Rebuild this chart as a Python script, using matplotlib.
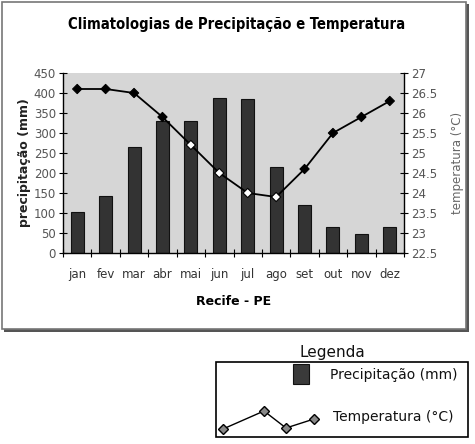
import matplotlib
matplotlib.use("Agg")
import matplotlib.pyplot as plt
from matplotlib.patches import Rectangle
from matplotlib import font_manager as fm
import numpy as np

months = ["jan", "fev", "mar", "abr", "mai", "jun", "jul", "ago", "set", "out", "nov", "dez"]
precip = [103, 143, 266, 330, 330, 388, 384, 214, 121, 66, 47, 66]
temp = [26.6, 26.6, 26.5, 25.9, 25.2, 24.5, 24.0, 23.9, 24.6, 25.5, 25.9, 26.3]
precip_ticks = list(range(0, 451, 50))
temp_ticks = [22.5, 23, 23.5, 24, 24.5, 25, 25.5, 26, 26.5, 27]

title = "Climatologias de Precipitação e Temperatura"
xlabel = "Recife - PE"
ylabel_left = "precipitação (mm)"
ylabel_right = "temperatura (°C)"
legend_title = "Legenda"
legend_labels = ["Precipitação (mm)", "Temperatura (°C)"]
# decorative zig-zag glyph for the legend (figure pixel coordinates)
glyph_x = [223, 264, 286, 314]
glyph_y = [429, 411, 428, 419]

# find a condensed / narrow bold font for the title
title_fp = None
cands = []
for f in fm.fontManager.ttflist:
    fn = f.fname.lower()
    if ("narrow" in fn or "condensed" in fn) and ("bold" in fn) and ("oblique" not in fn and "italic" not in fn):
        cands.append(f.fname)
cands.sort(key=lambda p: (0 if "liberationsansnarrow" in p.lower() else 1 if "dejavusanscondensed" in p.lower() else 2))
if cands:
    title_fp = fm.FontProperties(fname=cands[0], size=10.6)
else:
    title_fp = fm.FontProperties(family="DejaVu Sans", weight="bold", size=9.5)

W, H = 475, 444
fig = plt.figure(figsize=(W / 100, H / 100), dpi=100)
fig.patch.set_facecolor("white")

# overlay for frame & legend, pixel coords
ov = fig.add_axes([0, 0, 1, 1], zorder=0)
ov.set_xlim(0, W)
ov.set_ylim(H, 0)
ov.axis("off")
# chart frame with shadow
ov.add_patch(Rectangle((4, 4), 465, 328, facecolor="#555555", edgecolor="none"))
ov.add_patch(Rectangle((2, 2), 464, 327, facecolor="white", edgecolor="#777777", lw=1.2))

left, right, top, bottom = 63, 404, 73, 253
ax = fig.add_axes([left / W, 1 - bottom / H, (right - left) / W, (bottom - top) / H], zorder=2)
ax.set_facecolor("#d6d6d6")
x = np.arange(len(months))
ax.bar(x, precip, width=0.46, color="#333333", edgecolor="#111111", linewidth=0.8, zorder=2)
ax.set_xlim(-0.5, len(months) - 0.5)
ax.set_ylim(0, 450)
ax.set_yticks(precip_ticks)
ax.set_xticks(x)
ax.set_xticklabels(months)
ax.set_xticks(np.arange(-0.5, len(months)), minor=True)
ax.tick_params(axis="x", which="major", length=0, pad=11, labelsize=8.5, labelcolor="#333333")
ax.tick_params(axis="x", which="minor", length=6, direction="inout", width=0.8)
ax.tick_params(axis="y", length=6, direction="inout", width=0.8, labelsize=8.5, labelcolor="#555555", pad=2)
ax.spines["top"].set_visible(False)
ax.spines["right"].set_visible(False)
ax.spines["left"].set_linewidth(1.0)
ax.spines["bottom"].set_linewidth(1.0)
ax.set_xlabel(xlabel, fontsize=9, fontweight="bold", labelpad=10)
ax.set_ylabel(ylabel_left, fontsize=9, fontweight="bold", labelpad=2, color="#222222")

ax2 = ax.twinx()
ax2.set_zorder(3)
ax2.set_ylim(22.5, 27)
ax2.set_yticks(temp_ticks)
ax2.set_yticklabels([("%g" % t) for t in temp_ticks])
ax2.tick_params(axis="y", length=6, direction="inout", width=0.8, labelsize=8.5, labelcolor="#555555", pad=2)
ax2.spines["top"].set_visible(False)
ax2.spines["left"].set_visible(False)
ax2.spines["bottom"].set_visible(False)
ax2.spines["right"].set_linewidth(1.0)
ax2.set_ylabel(ylabel_right, fontsize=8.5, color="#666666", labelpad=10)

ax2.plot(x, temp, color="black", lw=1.3, zorder=3)
# markers over dark bars appear white
fig.canvas.draw()
faces = []
for xi, t, p in zip(x, temp, precip):
    disp = ax2.transData.transform((xi, t))
    pv = ax.transData.inverted().transform(disp)[1]
    faces.append("white" if pv < p else "black")
ax2.scatter(x, temp, marker="D", s=22, c=faces, edgecolors="black", linewidths=0.8, zorder=4)

fig.text(237 / W, 1 - 25 / H, title, ha="center", va="center", fontproperties=title_fp)

# legend
ov.text(332, 352, legend_title, ha="center", va="center", fontsize=11, color="#111111")
ov.add_patch(Rectangle((216, 362), 252, 75, facecolor="white", edgecolor="black", lw=1.2))
ov.add_patch(Rectangle((293, 364), 16, 20, facecolor="#3a3a3a", edgecolor="#111111", lw=0.8))
ov.text(330, 375, legend_labels[0], ha="left", va="center", fontsize=10, color="#111111")
ov.plot(glyph_x, glyph_y, color="black", lw=1.0, marker="D", markersize=5,
        markerfacecolor="#888888", markeredgecolor="black")
ov.text(333, 417, legend_labels[1], ha="left", va="center", fontsize=10, color="#111111")

fig.savefig("out.png", dpi=100)
